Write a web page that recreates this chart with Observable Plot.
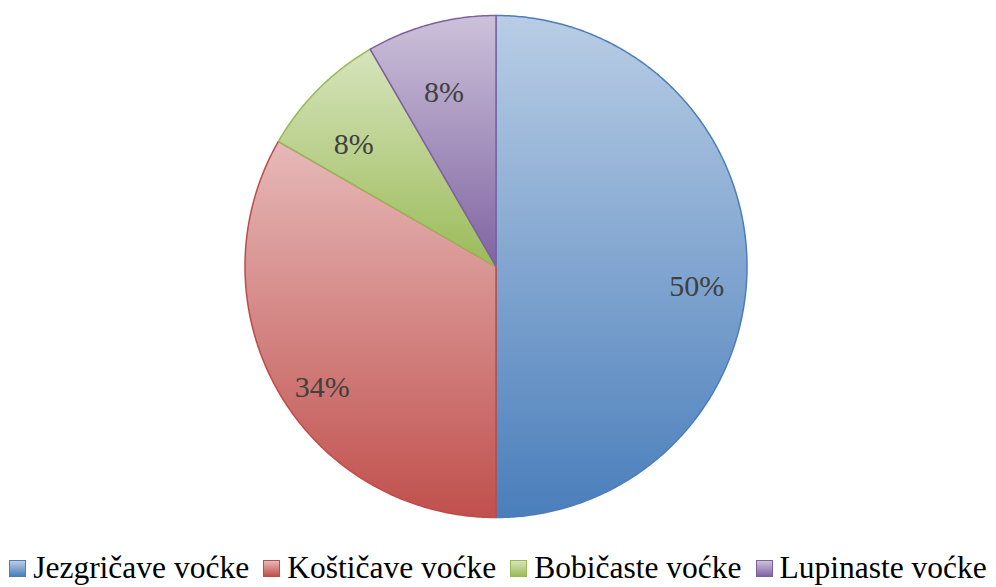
<!DOCTYPE html>
<html><head><meta charset="utf-8">
<script src="https://cdn.jsdelivr.net/npm/d3@7"></script>
<script src="https://cdn.jsdelivr.net/npm/@observablehq/plot@0.6"></script>
<style>
body{margin:0;background:#fff;font-family:'Liberation Serif',serif;}
#legend{position:absolute;left:0;top:550px;width:996px;height:36px;display:flex;justify-content:center;align-items:center;font-size:31.5px;color:#000;white-space:nowrap;}
.item{display:flex;align-items:center;margin:0 7px;}
.sw{width:15px;height:15px;margin-right:7px;}
</style>
</head><body>
<div id="chart"></div>
<div id="legend"></div>
<script>
const categories = ["Jezgričave voćke", "Koštičave voćke", "Bobičaste voćke", "Lupinaste voćke"];
const values = [50, 33.3, 8.35, 8.35];
const labels = ["50%", "34%", "8%", "8%"];
const lightColors = ["#b9cde5", "#e6b9b8", "#d7e4bd", "#ccc1da"];
const darkColors = ["#4a7ebb", "#c0504d", "#9bbb59", "#8064a2"];
const strokeColors = ["#4a7ebb", "#be4b48", "#98b954", "#7d60a0"];

const arcs = d3.pie().sort(null).value(d => d)(values);
const slices = arcs.map((a) => {
  const pts = [{x: 0, y: 0}];
  const n = Math.max(8, Math.ceil((a.endAngle - a.startAngle) / (Math.PI / 360)));
  for (let k = 0; k <= n; k++) {
    const t = a.startAngle + (a.endAngle - a.startAngle) * k / n;
    pts.push({x: Math.sin(t), y: Math.cos(t)});
  }
  pts.push({x: 0, y: 0});
  return pts;
});
const labelData = arcs.map((a, i) => {
  const m = (a.startAngle + a.endAngle) / 2;
  return {x: 0.8 * Math.sin(m), y: 0.8 * Math.cos(m), text: labels[i]};
});

const plot = Plot.plot({
  width: 996,
  height: 550,
  margin: 0,
  x: {domain: [-1, 1], range: [244.5, 746.5], axis: null},
  y: {domain: [-1, 1], range: [517, 15], axis: null},
  marks: [
    ...slices.map((pts, i) => Plot.line(pts, {
      x: "x", y: "y", fill: `url(#grad${i})`, stroke: strokeColors[i],
      strokeWidth: 1.5, strokeLinejoin: "round", curve: "linear"
    })),
    Plot.text(labelData, {
      x: "x", y: "y", text: "text", dy: 20, fontSize: 30,
      fontFamily: "Liberation Serif", fill: "#404040"
    })
  ]
});

const defs = d3.select(plot).insert("defs", ":first-child");
lightColors.forEach((c, i) => {
  const g = defs.append("linearGradient").attr("id", `grad${i}`)
    .attr("x1", 0).attr("y1", 0).attr("x2", 0).attr("y2", 1);
  g.append("stop").attr("offset", "0%").attr("stop-color", c);
  g.append("stop").attr("offset", "100%").attr("stop-color", darkColors[i]);
});
document.getElementById("chart").appendChild(plot);

const legend = document.getElementById("legend");
categories.forEach((c, i) => {
  const it = document.createElement("div");
  it.className = "item";
  const sw = document.createElement("div");
  sw.className = "sw";
  sw.style.background = `linear-gradient(${lightColors[i]}, ${darkColors[i]})`;
  sw.style.border = `1px solid ${strokeColors[i]}`;
  const sp = document.createElement("span");
  sp.textContent = c;
  sp.style.fontFamily = "'Liberation Serif'";
  it.appendChild(sw);
  it.appendChild(sp);
  legend.appendChild(it);
});
</script>
</body></html>
